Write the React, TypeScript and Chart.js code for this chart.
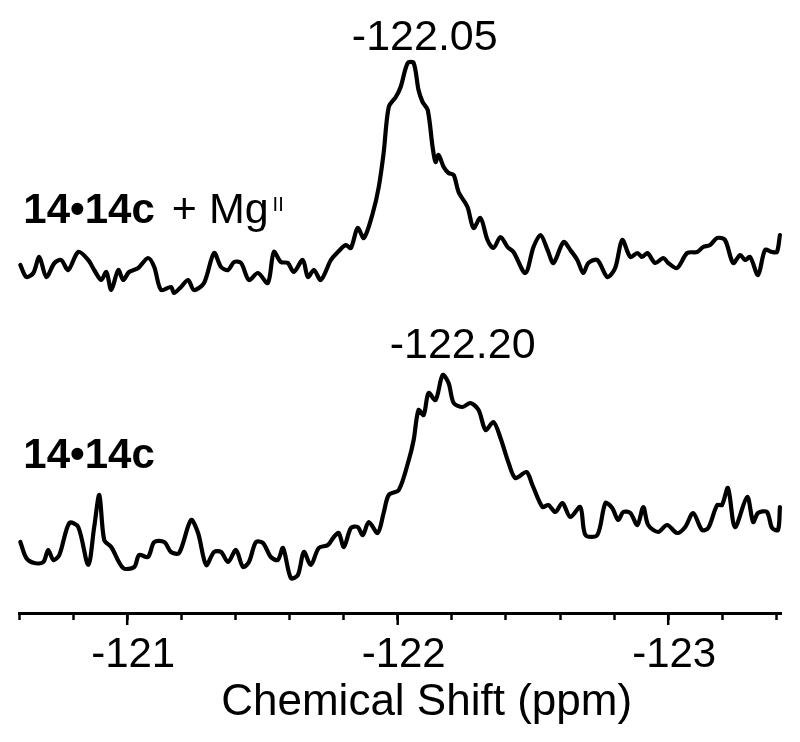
import React, { useEffect, useRef } from "react";
import { Chart, registerables } from "chart.js";

Chart.register(...registerables);

// Chemical shift (ppm) and intensity (arb. units) for 14•14c + Mg(II) (upper trace)
const PPM_TOP = [
  -120.605, -120.627, -120.653, -120.675, -120.701, -120.731, -120.756, -120.782, -120.819, -120.856,
  -120.878, -120.904, -120.923, -120.941, -120.967, -120.985, -121.007, -121.041, -121.077, -121.1,
  -121.125, -121.162, -121.173, -121.199, -121.225, -121.247, -121.284, -121.321, -121.347, -121.373,
  -121.395, -121.421, -121.45, -121.483, -121.52, -121.542, -121.568, -121.594, -121.616, -121.649,
  -121.668, -121.69, -121.716, -121.753, -121.779, -121.808, -121.827, -121.852, -121.875, -121.908,
  -121.93, -121.948, -121.967, -121.993, -122.011, -122.037, -122.059, -122.077, -122.092, -122.111,
  -122.129, -122.14, -122.151, -122.17, -122.188, -122.207, -122.225, -122.258, -122.28, -122.306,
  -122.332, -122.354, -122.38, -122.406, -122.428, -122.472, -122.502, -122.528, -122.554, -122.576,
  -122.613, -122.638, -122.664, -122.686, -122.705, -122.738, -122.775, -122.804, -122.83, -122.86,
  -122.886, -122.904, -122.923, -122.952, -122.982, -123.0, -123.033, -123.07, -123.107, -123.129,
  -123.155, -123.181, -123.21, -123.24, -123.266, -123.284, -123.303, -123.332, -123.358, -123.384,
  -123.402, -123.413,
];
const INT_TOP = [
  15, 3, 7, 23, 3, 17, 20, 10, 28, 20,
  10, 0, 8, -10, 10, 0, 8, 12, 22, 13,
  -10, -7, -13, -7, 0, -10, -3, 27, 13, 10,
  18, 17, 0, 7, -3, 28, 18, 17, 8, 20,
  3, 10, 0, 20, 28, 35, 32, 52, 42, 67,
  93, 127, 173, 183, 193, 217, 217, 190, 178, 170,
  133, 118, 125, 113, 107, 105, 88, 73, 52, 62,
  40, 32, 43, 33, 28, 7, 33, 45, 30, 17,
  38, 30, 20, 7, 17, 20, 3, 12, 40, 23,
  27, 23, 27, 17, 22, 17, 12, 27, 28, 33,
  35, 42, 40, 17, 25, 20, 23, 5, 30, 28,
  28, 45,
];

// Chemical shift (ppm) and intensity (arb. units) for 14•14c (lower trace)
const PPM_BOTTOM = [
  -120.605, -120.627, -120.657, -120.69, -120.708, -120.727, -120.749, -120.786, -120.819, -120.856,
  -120.878, -120.897, -120.915, -120.941, -120.985, -121.026, -121.044, -121.077, -121.1, -121.137,
  -121.162, -121.192, -121.236, -121.262, -121.292, -121.321, -121.347, -121.373, -121.402, -121.428,
  -121.45, -121.476, -121.502, -121.531, -121.557, -121.576, -121.605, -121.631, -121.653, -121.679,
  -121.708, -121.742, -121.764, -121.782, -121.801, -121.827, -121.852, -121.871, -121.893, -121.926,
  -121.948, -121.967, -122.004, -122.041, -122.059, -122.077, -122.096, -122.114, -122.14, -122.166,
  -122.188, -122.207, -122.24, -122.269, -122.299, -122.325, -122.354, -122.38, -122.41, -122.435,
  -122.476, -122.498, -122.535, -122.557, -122.583, -122.609, -122.638, -122.675, -122.694, -122.738,
  -122.768, -122.793, -122.815, -122.834, -122.86, -122.886, -122.908, -122.926, -122.963, -122.996,
  -123.033, -123.063, -123.092, -123.125, -123.148, -123.181, -123.199, -123.221, -123.247, -123.292,
  -123.314, -123.332, -123.365, -123.384, -123.406, -123.413,
];
const INT_BOTTOM = [
  23, 7, 2, 3, 15, 5, 10, 42, 38, 0,
  38, 70, 25, 18, -3, -2, 10, 8, 23, 23,
  13, 12, 45, 32, 0, 13, 13, 3, 15, -2,
  3, 23, 22, 8, 5, 17, -13, -10, 13, 0,
  17, 20, 28, 32, 18, 37, 38, 30, 43, 32,
  52, 70, 75, 105, 125, 155, 150, 172, 165, 190,
  182, 162, 158, 162, 155, 135, 143, 127, 102, 87,
  93, 80, 58, 60, 53, 62, 48, 58, 30, 30,
  62, 57, 45, 53, 52, 40, 58, 40, 33, 40,
  32, 38, 52, 35, 37, 60, 60, 77, 38, 68,
  43, 52, 53, 37, 35, 58,
];

// vertical offset of the upper trace (arb. units)
const TOP_OFFSET = 285;

const TICK_VALUES = [
  -120.6, -120.8, -121.0, -121.2, -121.4, -121.6, -121.8, -122.0,
  -122.2, -122.4, -122.6, -122.8, -123.0, -123.2, -123.4,
];
const MAJOR_TICKS = [-121, -122, -123];
const X_TITLE = "Chemical Shift (ppm)";
const X_TITLE_AT = -122.107;

const PEAK_LABELS = [
  { text: "-122.05", x: -122.1, y: 515 },
  { text: "-122.20", x: -122.24, y: 207 },
];
const TRACE_LABELS = [
  { bold: "14•14c", rest: "+ Mg", sup: "II", x: -120.616, y: 342 },
  { bold: "14•14c", rest: "", sup: "", x: -120.616, y: 97 },
];

const FAMILY = "'Liberation Sans', Arial, Helvetica, sans-serif";

const annotationPlugin = {
  id: "nmrAnnotations",
  afterDraw(chart: any) {
    const ctx = chart.ctx;
    const xs = chart.scales.x;
    const ys = chart.scales.y;
    ctx.save();
    // long major ticks
    ctx.strokeStyle = "#000";
    ctx.lineWidth = 2.5;
    MAJOR_TICKS.forEach((v) => {
      const px = xs.getPixelForValue(v);
      ctx.beginPath();
      ctx.moveTo(px, xs.top);
      ctx.lineTo(px, xs.top + 12);
      ctx.stroke();
    });
    ctx.fillStyle = "#000";
    ctx.textBaseline = "alphabetic";
    // axis title
    ctx.font = `44px ${FAMILY}`;
    ctx.textAlign = "center";
    ctx.fillText(X_TITLE, xs.getPixelForValue(X_TITLE_AT), xs.top + 102);
    PEAK_LABELS.forEach((l) => {
      ctx.font = `43px ${FAMILY}`;
      ctx.textAlign = "center";
      ctx.fillText(l.text, xs.getPixelForValue(l.x), ys.getPixelForValue(l.y));
    });
    TRACE_LABELS.forEach((l) => {
      let px = xs.getPixelForValue(l.x);
      const py = ys.getPixelForValue(l.y);
      ctx.textAlign = "left";
      ctx.font = `bold 42px ${FAMILY}`;
      ctx.fillText(l.bold, px, py);
      px += ctx.measureText(l.bold).width;
      if (l.rest) {
        px += 17;
        ctx.font = `43px ${FAMILY}`;
        ctx.fillText(l.rest, px, py);
        px += ctx.measureText(l.rest).width;
      }
      if (l.sup) {
        ctx.font = `20px ${FAMILY}`;
        ctx.fillText(l.sup, px + 4, py - 12);
      }
    });
    ctx.restore();
  },
};

export default function App() {
  const canvasRef = useRef<HTMLCanvasElement | null>(null);

  useEffect(() => {
    if (!canvasRef.current) return;
    const lineStyle = {
      borderColor: "#000",
      borderWidth: 4.2,
      pointRadius: 0,
      tension: 0.3,
      fill: false,
      clip: false as any,
      borderJoinStyle: "round" as const,
      borderCapStyle: "round" as const,
    };
    const chart = new Chart(canvasRef.current, {
      type: "line",
      data: {
        datasets: [
          {
            label: "14•14c + MgII",
            data: PPM_TOP.map((x, i) => ({ x, y: INT_TOP[i] + TOP_OFFSET })),
            ...lineStyle,
          },
          {
            label: "14•14c",
            data: PPM_BOTTOM.map((x, i) => ({ x, y: INT_BOTTOM[i] })),
            ...lineStyle,
          },
        ],
      },
      options: {
        animation: false,
        responsive: false,
        maintainAspectRatio: false,
        layout: { padding: { left: 19, right: 19, top: 0, bottom: 0 } },
        plugins: {
          legend: { display: false },
          tooltip: { enabled: false },
          title: { display: false },
        },
        scales: {
          x: {
            type: "linear",
            reverse: true,
            min: -123.417,
            max: -120.6,
            afterBuildTicks: (axis: any) => {
              axis.ticks = TICK_VALUES.map((value) => ({ value }));
            },
            afterFit: (axis: any) => {
              axis.height = 129;
            },
            border: { display: true, color: "#000", width: 3 },
            grid: {
              display: true,
              drawOnChartArea: false,
              drawTicks: true,
              tickLength: 7,
              tickWidth: 2.5,
              tickColor: "#000",
              color: "#000",
            },
            ticks: {
              autoSkip: false,
              maxRotation: 0,
              minRotation: 0,
              padding: 10,
              labelOffset: 6,
              color: "#000",
              font: { size: 42, family: FAMILY },
              callback: (value: any) => {
                const v = Number(value);
                return Math.abs(v - Math.round(v)) < 1e-6 ? String(Math.round(v)) : "";
              },
            },
            title: { display: false },
          },
          y: {
            type: "linear",
            display: false,
            min: -48,
            max: 565,
          },
        },
      },
      plugins: [annotationPlugin],
    });
    return () => chart.destroy();
  }, []);

  return (
    <div style={{ position: "fixed", left: 0, top: 0, width: 800, height: 742, background: "#fff" }}>
      <canvas ref={canvasRef} width={800} height={742} style={{ display: "block" }} />
    </div>
  );
}
